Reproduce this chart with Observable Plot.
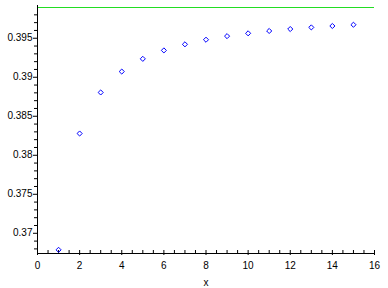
<!DOCTYPE html>
<html>
<head>
<meta charset="utf-8">
<script src="https://cdn.jsdelivr.net/npm/d3@7"></script>
<script src="https://cdn.jsdelivr.net/npm/@observablehq/plot@0.6"></script>
<style>
  html, body { margin: 0; padding: 0; background: #fff; }
  #chart svg { display: block; }
</style>
</head>
<body>
<div id="chart"></div>
<script>
// Data
const n = [1, 2, 3, 4, 5, 6, 7, 8, 9, 10, 11, 12, 13, 14, 15];
const values = [0.36788, 0.38279, 0.38805, 0.39073, 0.39236, 0.39344, 0.39422, 0.39481,
                0.39527, 0.39563, 0.39593, 0.39618, 0.39639, 0.39657, 0.39673];
const limitValue = [0.39894];
const yAxisMin = 0.36741;
const xMajorTicks = [0, 2, 4, 6, 8, 10, 12, 14, 16];
const xMinorTicks = [0.5, 1, 1.5, 2.5, 3, 3.5, 4.5, 5, 5.5, 6.5, 7, 7.5, 8.5, 9, 9.5,
                     10.5, 11, 11.5, 12.5, 13, 13.5, 14.5, 15, 15.5];
const yMajorTicks = [0.37, 0.375, 0.38, 0.385, 0.39, 0.395];
const yMajorLabels = ["0.37", "0.375", "0.38", "0.385", "0.39", "0.395"];
const yMinorTicks = [0.368, 0.369, 0.371, 0.372, 0.373, 0.374, 0.376, 0.377, 0.378, 0.379,
                     0.381, 0.382, 0.383, 0.384, 0.386, 0.387, 0.388, 0.389,
                     0.391, 0.392, 0.393, 0.394, 0.396, 0.397, 0.398];
const xLabel = ["x"];

const points = n.map((x, i) => ({x, y: values[i]}));
const yLabelMap = new Map(yMajorTicks.map((t, i) => [t, yMajorLabels[i]]));

const plot = Plot.plot({
  width: 388,
  height: 288,
  marginLeft: 37,
  marginRight: 14,
  marginTop: 7,
  marginBottom: 35,
  style: {fontFamily: "'Liberation Sans', Arial, sans-serif", fontSize: "10px", color: "#000", background: "#fff"},
  x: {domain: [0, 16]},
  y: {domain: [yAxisMin, limitValue[0]]},
  marks: [
    Plot.ruleY(limitValue, {stroke: "#22dd22", strokeWidth: 1}),
    Plot.ruleX([0], {stroke: "#000", insetTop: -2}),
    Plot.ruleY([yAxisMin], {stroke: "#000"}),
    Plot.axisY(yMinorTicks, {tickSize: 3, tickFormat: () => "", stroke: "#000", label: null}),
    Plot.axisY(yMajorTicks, {tickSize: 4, tickPadding: 1, tickFormat: d => yLabelMap.get(d), stroke: "#000", fill: "#000", label: null}),
    Plot.tickX(xMinorTicks, {x: d => d, stroke: "#000", insetTop: 243}),
    Plot.tickX(xMajorTicks, {x: d => d, stroke: "#000", insetTop: 243}),
    Plot.axisX(xMajorTicks, {tickSize: 2, tickPadding: 6, tickFormat: d => String(d), stroke: "#000", fill: "#000", label: null}),
    Plot.text(xLabel, {text: d => d, frameAnchor: "bottom", dy: 32, fill: "#000"}),
    Plot.dot(points, {x: "x", y: "y", symbol: "diamond2", r: 2.3, stroke: "#0000ff", strokeWidth: 1, fill: "none"})
  ]
});
document.getElementById("chart").appendChild(plot);
</script>
</body>
</html>
